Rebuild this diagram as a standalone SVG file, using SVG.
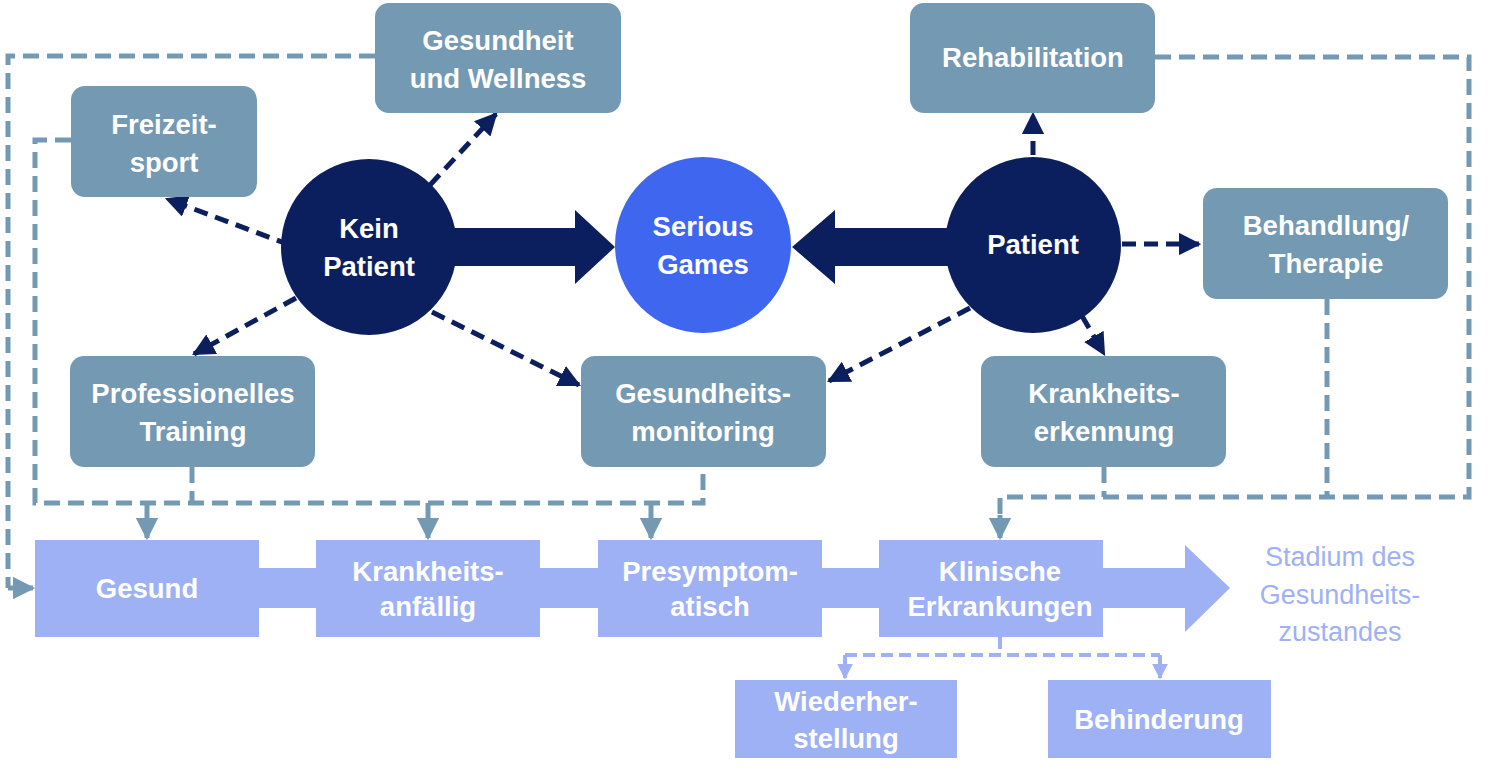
<svg xmlns="http://www.w3.org/2000/svg" width="1489" height="773" viewBox="0 0 1489 773">
<defs>
<style>
.box{fill:#7399B3}
.lb{fill:#9DB1F4}
.t{font-family:"Liberation Sans",Arial,sans-serif;font-weight:bold;font-size:27.5px;fill:#fff;text-anchor:middle}
.st{font-family:"Liberation Sans",Arial,sans-serif;font-size:27px;fill:#9DB1F4;text-anchor:middle}
.sd{fill:none;stroke:#7399B3;stroke-width:5;stroke-dasharray:16,8}
.ss{fill:none;stroke:#7399B3;stroke-width:5}
.nd{fill:none;stroke:#0B1F5F;stroke-width:5;stroke-dasharray:14,8}
.ld{fill:none;stroke:#9DB1F4;stroke-width:4;stroke-dasharray:12,6}
</style>
<marker id="an" viewBox="0 0 10 10" refX="9" refY="5" markerWidth="4.5" markerHeight="4.5" orient="auto" markerUnits="strokeWidth"><path d="M0,0L10,5L0,10z" fill="#0B1F5F"/></marker>
<marker id="as" viewBox="0 0 10 10" refX="9" refY="5" markerWidth="4.5" markerHeight="4.5" orient="auto" markerUnits="strokeWidth"><path d="M0,0L10,5L0,10z" fill="#7399B3"/></marker>
<marker id="al" viewBox="0 0 10 10" refX="9" refY="5" markerWidth="4" markerHeight="4" orient="auto" markerUnits="strokeWidth"><path d="M0,0L10,5L0,10z" fill="#9DB1F4"/></marker>
</defs>
<rect width="1489" height="773" fill="#fff"/>
<g id="connectors">
<path class="sd" d="M375,56H8V588"/><path class="ss" d="M8,588H33" marker-end="url(#as)"/>
<path class="sd" d="M71,140H35V503H703V467"/>
<path class="sd" d="M192,467V503"/>
<path class="ss" d="M147,503V538" marker-end="url(#as)"/>
<path class="ss" d="M428,503V538" marker-end="url(#as)"/>
<path class="ss" d="M651,503V538" marker-end="url(#as)"/>
<path class="sd" d="M1155,57H1469V497H1000V520"/>
<path class="ss" d="M1000,515V538" marker-end="url(#as)"/>
<path class="sd" d="M1327,299V497"/>
<path class="sd" d="M1104,467V497"/>
<path class="ld" d="M1000,637V655M845,655H1160"/>
<path class="ss" style="stroke:#9DB1F4;stroke-width:4" d="M845,655V678" marker-end="url(#al)"/>
<path class="ss" style="stroke:#9DB1F4;stroke-width:4" d="M1160,655V678" marker-end="url(#al)"/>
<path class="nd" d="M290,245L167,199" marker-end="url(#an)"/>
<path class="nd" d="M430,185L496,114" marker-end="url(#an)"/>
<path class="nd" d="M296,298L194,354" marker-end="url(#an)"/>
<path class="nd" d="M432,312L579,385" marker-end="url(#an)"/>
<path class="nd" d="M1033,155V114" marker-end="url(#an)"/>
<path class="nd" d="M1122,244H1199" marker-end="url(#an)"/>
<path class="nd" d="M970,308L829,381" marker-end="url(#an)"/>
<path class="nd" d="M1082,316L1104,354" marker-end="url(#an)"/>
<path d="M440,228H575V210L615,247L575,284V266H440z" fill="#0B1F5F"/>
<path d="M960,228H835V210L792,247L835,284V266H960z" fill="#0B1F5F"/>
</g>
<g id="chain"><rect class="lb" x="240" y="568" width="880" height="40"/><path class="lb" d="M1100,568H1185V545L1230,588L1185,632V608H1100z"/></g>
<g id="n-gw"><rect class="box" x="375" y="3" width="246" height="110" rx="14"/><text class="t" x="498" y="50">Gesundheit</text><text class="t" x="498" y="88">und Wellness</text></g>
<g id="n-fs"><rect class="box" x="71" y="86" width="186" height="111" rx="14"/><text class="t" x="164" y="134">Freizeit-</text><text class="t" x="164" y="172">sport</text></g>
<g id="n-reha"><rect class="box" x="910" y="3" width="245" height="110" rx="14"/><text class="t" x="1033" y="67">Rehabilitation</text></g>
<g id="n-bt"><rect class="box" x="1203" y="188" width="245" height="111" rx="14"/><text class="t" x="1326" y="235">Behandlung/</text><text class="t" x="1326" y="273">Therapie</text></g>
<g id="n-pt"><rect class="box" x="70" y="356" width="245" height="111" rx="14"/><text class="t" x="193" y="403">Professionelles</text><text class="t" x="193" y="441">Training</text></g>
<g id="n-gm"><rect class="box" x="581" y="356" width="245" height="111" rx="14"/><text class="t" x="703" y="403">Gesundheits-</text><text class="t" x="703" y="441">monitoring</text></g>
<g id="n-ke"><rect class="box" x="981" y="356" width="245" height="111" rx="14"/><text class="t" x="1104" y="403">Krankheits-</text><text class="t" x="1104" y="441">erkennung</text></g>
<g id="n-kp"><circle cx="369" cy="247" r="88" fill="#0B1F5F"/><text class="t" x="369" y="238">Kein</text><text class="t" x="369" y="276">Patient</text></g>
<g id="n-sg"><circle cx="703" cy="245" r="88" fill="#3F66EE"/><text class="t" x="703" y="236">Serious</text><text class="t" x="703" y="274">Games</text></g>
<g id="n-p"><circle cx="1033" cy="245" r="88" fill="#0B1F5F"/><text class="t" x="1033" y="254">Patient</text></g>
<g id="n-g"><rect class="lb" x="35" y="540" width="224" height="97"/><text class="t" x="147" y="598">Gesund</text></g>
<g id="n-ka"><rect class="lb" x="316" y="540" width="224" height="97"/><text class="t" x="428" y="581">Krankheits-</text><text class="t" x="428" y="616">anfällig</text></g>
<g id="n-ps"><rect class="lb" x="598" y="540" width="224" height="97"/><text class="t" x="710" y="581">Presymptom-</text><text class="t" x="710" y="616">atisch</text></g>
<g id="n-kl"><rect class="lb" x="879" y="540" width="224" height="97"/><text class="t" x="1000" y="581">Klinische</text><text class="t" x="1000" y="616">Erkrankungen</text></g>
<g id="n-st"><text class="st" x="1340" y="566">Stadium des</text><text class="st" x="1340" y="604">Gesundheits-</text><text class="st" x="1340" y="641">zustandes</text></g>
<g id="n-wh"><rect class="lb" x="735" y="680" width="222" height="78"/><text class="t" x="846" y="711">Wiederher-</text><text class="t" x="846" y="748">stellung</text></g>
<g id="n-bh"><rect class="lb" x="1048" y="680" width="223" height="78"/><text class="t" x="1159" y="729">Behinderung</text></g>
</svg>
